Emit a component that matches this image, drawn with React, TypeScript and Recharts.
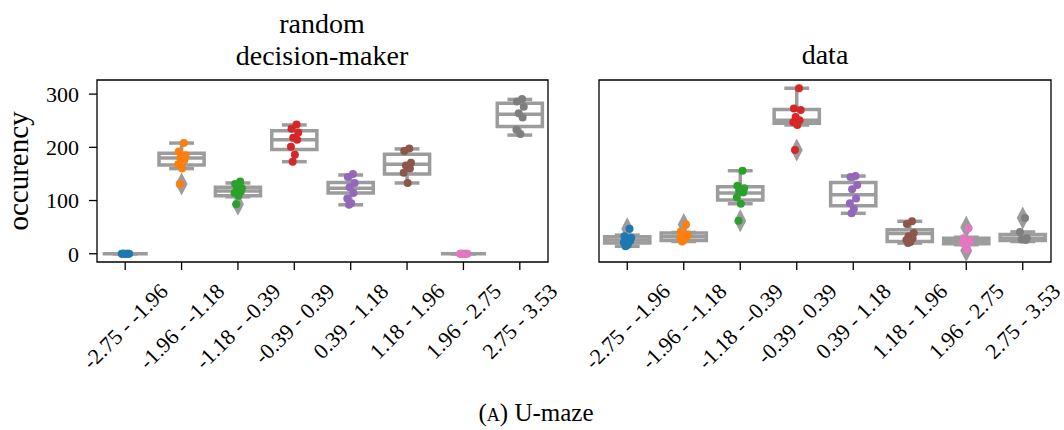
import {
  ComposedChart,
  XAxis,
  YAxis,
  Scatter,
  ReferenceArea,
  ReferenceLine,
} from "recharts";

const CATEGORIES = [
  "-2.75 - -1.96",
  "-1.96 - -1.18",
  "-1.18 - -0.39",
  "-0.39 - 0.39",
  "0.39 - 1.18",
  "1.18 - 1.96",
  "1.96 - 2.75",
  "2.75 - 3.53",
];
const PALETTE = [
  "#1f77b4",
  "#ff7f0e",
  "#2ca02c",
  "#d62728",
  "#9467bd",
  "#8c564b",
  "#e377c2",
  "#7f7f7f",
];
const Y_TICKS = [0, 100, 200, 300];
const Y_DOMAIN: [number, number] = [-15.5, 326.5];

// random decision-maker
const RAND_Q1 = [0, 167, 109, 196, 114, 150, 0, 239];
const RAND_MED = [0, 180, 118, 214, 123, 168, 0, 262];
const RAND_Q3 = [0, 189, 125, 231, 134, 187, 0, 283];
const RAND_LO = [0, 160, 107, 173, 92, 133, 0, 223];
const RAND_HI = [0, 208, 133, 242, 148, 197, 0, 290];
const RAND_OUTLIERS = [[], [131], [93], [], [], [], [], []];
const RAND_POINTS = [
  [0, 0, 0, 0, 0, 0, 0, 0],
  [208, 192, 185, 180, 176, 168, 160, 131],
  [136, 131, 123, 120, 117, 114, 109, 93],
  [243, 235, 228, 218, 214, 201, 186, 173],
  [150, 144, 133, 125, 114, 104, 95, 92],
  [198, 193, 171, 166, 160, 152, 133],
  [0, 0, 0, 0, 0, 0, 0, 0],
  [291, 286, 276, 264, 256, 233, 225],
];

// data
const DATA_Q1 = [20, 25, 101, 245, 90, 23, 19, 25];
const DATA_MED = [26, 32, 114, 251, 111, 38, 24, 29];
const DATA_Q3 = [32, 39, 126, 271, 134, 45, 29, 36];
const DATA_LO = [14, 23, 94, 242, 76, 20, 17, 23];
const DATA_HI = [35, 40, 156, 311, 146, 61, 31, 41];
const DATA_OUTLIERS = [[47], [55], [62], [195], [], [], [50, 6], [67]];
const DATA_POINTS = [
  [47, 33, 30, 26, 24, 21, 17, 14],
  [55, 42, 36, 34, 31, 29, 26, 23],
  [156, 128, 123, 119, 115, 106, 94, 62],
  [311, 273, 270, 257, 251, 247, 242, 195],
  [146, 144, 129, 121, 104, 95, 84, 76],
  [61, 56, 39, 33, 29, 26, 22, 20],
  [48, 29, 26, 25, 22, 20, 8],
  [67, 41, 29, 27, 26],
];

// strip-plot jitter, in category units
const JITTER = [0.04, -0.05, 0.07, -0.02, 0.05, -0.06, 0.01, -0.03];

const BOX_GREY = "#9c9c9c";
const FONT = '"Liberation Serif", "DejaVu Serif", serif';
const TICK_SIZE = 22;

let measureCtx: CanvasRenderingContext2D | null = null;
function textWidth(s: string, size: number) {
  if (!measureCtx) measureCtx = document.createElement("canvas").getContext("2d");
  if (!measureCtx) return s.length * size * 0.45;
  measureCtx.font = `${size}px ${FONT}`;
  return measureCtx.measureText(s).width;
}

function RotatedTick({ x, y, payload }: any) {
  const label = CATEGORIES[payload.value] ?? "";
  const w = textWidth(label, TICK_SIZE);
  const off = (w + TICK_SIZE * 0.7) / (2 * Math.SQRT2);
  return (
    <text
      transform={`translate(${x},${y + off}) rotate(-45)`}
      textAnchor="middle"
      dominantBaseline="central"
      fontFamily={FONT}
      fontSize={TICK_SIZE}
      fill="#000"
    >
      {label}
    </text>
  );
}

const Diamond = (p: any) => (
  <polygon
    points={`${p.cx},${p.cy - 11.5} ${p.cx + 6},${p.cy} ${p.cx},${p.cy + 11.5} ${p.cx - 6},${p.cy}`}
    fill={BOX_GREY}
  />
);

const Dot = (p: any) => (
  <circle cx={p.cx} cy={p.cy} r={4} fill={PALETTE[p.payload.c]} />
);

function Panel({
  width,
  yAxisWidth,
  marginRight,
  showYLabels,
  q1,
  med,
  q3,
  lo,
  hi,
  outliers,
  points,
}: {
  width: number;
  yAxisWidth: number;
  marginRight: number;
  showYLabels: boolean;
  q1: number[];
  med: number[];
  q3: number[];
  lo: number[];
  hi: number[];
  outliers: number[][];
  points: number[][];
}) {
  const dots = points.flatMap((vals, i) =>
    vals.map((v, k) => ({ x: i + JITTER[k % JITTER.length], y: v, c: i }))
  );
  const outs = outliers.flatMap((vals, i) => vals.map((v) => ({ x: i, y: v })));
  const line = { stroke: BOX_GREY, strokeWidth: 3.5 };

  return (
    <ComposedChart
      width={width}
      height={430}
      margin={{ top: 80, right: marginRight, bottom: 0, left: 0 }}
    >
      <XAxis
        type="number"
        dataKey="x"
        domain={[-0.5, 7.5]}
        ticks={[0, 1, 2, 3, 4, 5, 6, 7]}
        interval={0}
        allowDataOverflow
        height={168}
        axisLine={false}
        tickLine={{ stroke: "#000", strokeWidth: 1.3 }}
        tickSize={8}
        tickMargin={12}
        tick={<RotatedTick />}
      />
      <YAxis
        type="number"
        dataKey="y"
        domain={Y_DOMAIN}
        ticks={Y_TICKS}
        interval={0}
        allowDataOverflow
        width={yAxisWidth}
        axisLine={false}
        tickLine={{ stroke: "#000", strokeWidth: 1.3 }}
        tickSize={8}
        tickMargin={10}
        tick={
          showYLabels
            ? { fill: "#000", fontSize: TICK_SIZE, fontFamily: FONT }
            : false
        }
      />
      {CATEGORIES.map((_, i) => (
        <ReferenceLine
          key={`wl${i}`}
          segment={[{ x: i, y: lo[i] }, { x: i, y: q1[i] }]}
          {...line}
        />
      ))}
      {CATEGORIES.map((_, i) => (
        <ReferenceLine
          key={`wh${i}`}
          segment={[{ x: i, y: q3[i] }, { x: i, y: hi[i] }]}
          {...line}
        />
      ))}
      {CATEGORIES.map((_, i) => (
        <ReferenceLine
          key={`cl${i}`}
          segment={[{ x: i - 0.22, y: lo[i] }, { x: i + 0.22, y: lo[i] }]}
          {...line}
        />
      ))}
      {CATEGORIES.map((_, i) => (
        <ReferenceLine
          key={`ch${i}`}
          segment={[{ x: i - 0.22, y: hi[i] }, { x: i + 0.22, y: hi[i] }]}
          {...line}
        />
      ))}
      {CATEGORIES.map((_, i) => (
        <ReferenceArea
          key={`box${i}`}
          x1={i - 0.4}
          x2={i + 0.4}
          y1={q1[i]}
          y2={q3[i]}
          fill="#ffffff"
          fillOpacity={1}
          stroke={BOX_GREY}
          strokeWidth={3.5}
        />
      ))}
      {CATEGORIES.map((_, i) => (
        <ReferenceLine
          key={`md${i}`}
          segment={[{ x: i - 0.4, y: med[i] }, { x: i + 0.4, y: med[i] }]}
          {...line}
        />
      ))}
      <Scatter data={outs} dataKey="y" shape={Diamond} isAnimationActive={false} />
      <Scatter data={dots} dataKey="y" shape={Dot} isAnimationActive={false} />
      <ReferenceArea
        x1={-0.5}
        x2={7.5}
        y1={Y_DOMAIN[0]}
        y2={Y_DOMAIN[1]}
        fill="none"
        stroke="#000"
        strokeWidth={1.3}
      />
    </ComposedChart>
  );
}

export default function App() {
  return (
    <div
      style={{
        position: "absolute",
        left: 0,
        top: 0,
        width: 1064,
        height: 430,
        background: "#fff",
      }}
    >
      <div style={{ position: "absolute", left: 0, top: 0 }}>
        <Panel
          width={590}
          yAxisWidth={97}
          marginRight={42}
          showYLabels
          q1={RAND_Q1}
          med={RAND_MED}
          q3={RAND_Q3}
          lo={RAND_LO}
          hi={RAND_HI}
          outliers={RAND_OUTLIERS}
          points={RAND_POINTS}
        />
      </div>
      <div style={{ position: "absolute", left: 560, top: 0 }}>
        <Panel
          width={504}
          yAxisWidth={39}
          marginRight={13}
          showYLabels={false}
          q1={DATA_Q1}
          med={DATA_MED}
          q3={DATA_Q3}
          lo={DATA_LO}
          hi={DATA_HI}
          outliers={DATA_OUTLIERS}
          points={DATA_POINTS}
        />
      </div>
      <svg
        width={1064}
        height={430}
        style={{ position: "absolute", left: 0, top: 0, pointerEvents: "none" }}
        fontFamily={FONT}
        fill="#000"
      >
        <text x={322} y={33} fontSize={28} textAnchor="middle">
          random
        </text>
        <text x={322} y={65} fontSize={28} textAnchor="middle">
          decision-maker
        </text>
        <text x={825} y={64} fontSize={28} textAnchor="middle">
          data
        </text>
        <text
          transform="translate(28,171) rotate(-90)"
          fontSize={29}
          textAnchor="middle"
        >
          occurency
        </text>
        <text x={536} y={421} fontSize={25} textAnchor="middle">
          (<tspan style={{ fontVariant: "small-caps" }}>a</tspan>) U-maze
        </text>
      </svg>
    </div>
  );
}
